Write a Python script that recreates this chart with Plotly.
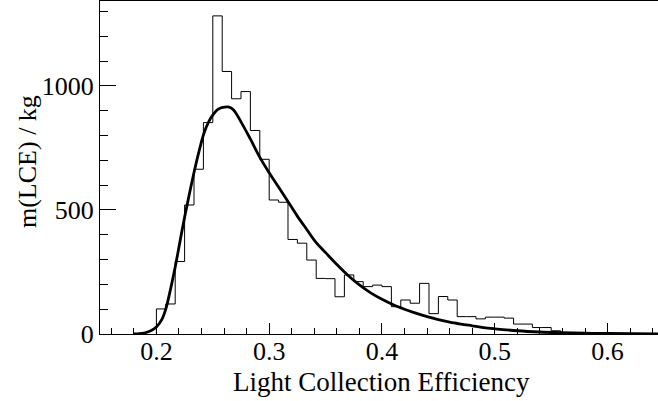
import numpy as np
import plotly.graph_objects as go

# ---- data ----
hist_start = 0.2          # left edge of first non-empty bin
hist_bin_width = 1 / 120  # bin width
hist_counts = [101, 121, 292, 520, 664, 852, 1282, 1058, 948, 977,
               820, 704, 540, 531, 381, 366, 298, 224, 223, 150,
               238, 211, 191, 197, 191, 110, 137, 124, 204, 82,
               151, 137, 70, 70, 61, 68, 68, 64, 40, 40,
               26, 26, 13, 6, 3, 2, 1, 1]

fit_x = [0.180, 0.185, 0.190, 0.195, 0.200, 0.205, 0.2083, 0.2125, 0.2169, 0.2210,
         0.2252, 0.2295, 0.2338, 0.2380, 0.2421, 0.2463, 0.2504, 0.2545, 0.2587, 0.2636,
         0.2680, 0.275, 0.2834, 0.2916, 0.300, 0.3083, 0.3165, 0.3248, 0.3335, 0.3417,
         0.350, 0.360, 0.370, 0.380, 0.390, 0.400, 0.410, 0.420, 0.430, 0.440,
         0.450, 0.460, 0.470, 0.480, 0.490, 0.500, 0.520, 0.540, 0.560, 0.580,
         0.600, 0.6447]
fit_y = [0, 1, 5, 13, 28, 60, 100, 180, 275, 375,
         475, 570, 660, 740, 808, 855, 885, 905, 913, 915,
         905, 855, 785, 713, 650, 592, 535, 476, 420, 368,
         328, 280, 236, 198, 166, 140, 118, 100, 84, 70,
         58, 48, 40, 33, 26, 21, 13, 8, 5, 3,
         2, 0.8]

x_ticks = [0.2, 0.3, 0.4, 0.5, 0.6]
x_ticklabels = ["0.2", "0.3", "0.4", "0.5", "0.6"]
y_ticks = [0, 500, 1000]
y_ticklabels = ["0", "500", "1000"]
x_title = "Light Collection Efficiency"
y_title = "m(LCE) / kg"

# ---- build step outline ----
n = len(hist_counts)
edges = hist_start + hist_bin_width * np.arange(n + 1)
step_x = [edges[0]] + list(edges[:n]) + [edges[n], edges[n]]
step_y = [0] + list(hist_counts) + [hist_counts[-1], 0]

FONT = "Liberation Serif, Times New Roman, serif"

fig = go.Figure()
fig.add_trace(go.Scatter(x=step_x, y=step_y, mode="lines", line_shape="hv",
                         line=dict(color="black", width=1), hoverinfo="skip"))
fig.add_trace(go.Scatter(x=fit_x, y=fit_y, mode="lines", line_shape="spline",
                         line=dict(color="black", width=2.8), hoverinfo="skip"))

fig.update_layout(
    width=658, height=401,
    margin=dict(l=100, r=0, t=1, b=67),
    paper_bgcolor="white", plot_bgcolor="white",
    showlegend=False,
    font=dict(family=FONT, color="black", size=26),
    xaxis=dict(range=[0.15, 0.6447], tickvals=x_ticks, ticktext=x_ticklabels,
               ticks="inside", ticklen=11, tickcolor="black", tickwidth=1,
               ticklabelstandoff=-6,
               minor=dict(ticks="inside", dtick=0.02, tick0=0.2, ticklen=6,
                          tickcolor="black", tickwidth=1),
               showline=True, linecolor="black", linewidth=1, mirror=True,
               showgrid=False, zeroline=False,
               tickfont=dict(family=FONT, size=26, color="black")),
    yaxis=dict(range=[0, 1342], tickvals=y_ticks, ticktext=y_ticklabels,
               ticks="inside", ticklen=16, tickcolor="black", tickwidth=1,
               minor=dict(ticks="inside", dtick=100, tick0=0, ticklen=8,
                          tickcolor="black", tickwidth=1),
               showline=True, linecolor="black", linewidth=1,
               showgrid=False, zeroline=False,
               tickfont=dict(family=FONT, size=26, color="black")),
    annotations=[
        dict(text=x_title, xref="paper", yref="paper", x=0.505, y=-0.143,
             xanchor="center", yanchor="middle", showarrow=False,
             font=dict(family=FONT, size=27, color="black")),
        dict(text=y_title, xref="paper", yref="paper", x=-0.1308, y=0.5165,
             xanchor="center", yanchor="middle", showarrow=False, textangle=-90,
             font=dict(family=FONT, size=26, color="black")),
    ],
)

fig.write_html("out.html")
